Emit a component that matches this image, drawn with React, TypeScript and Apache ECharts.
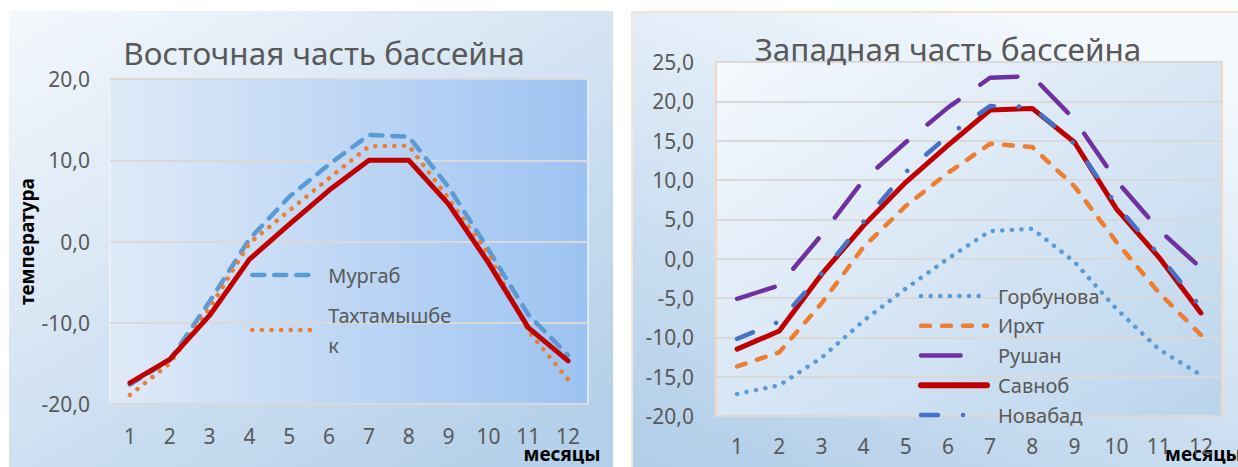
import { useEffect, useRef } from "react";
import * as echarts from "echarts";

// Months on the category axis
const months = ["1", "2", "3", "4", "5", "6", "7", "8", "9", "10", "11", "12"];

// Eastern part of the basin, mean monthly temperature, °C
const murgab = [-17.6, -14.6, -7.4, 0.3, 5.5, 9.5, 13.1, 12.9, 6.7, -1.0, -9.0, -14.0];
const takhtamyshbek = [-18.9, -15.0, -8.2, -0.2, 3.8, 7.8, 11.7, 11.8, 5.3, -1.6, -11.0, -17.0];
const eastMean = [-17.4, -14.5, -9.1, -2.2, 2.1, 6.3, 10.0, 10.0, 4.6, -2.6, -10.6, -14.7];

// Western part of the basin, mean monthly temperature, °C
const gorbunova = [-17.2, -16.1, -12.6, -7.9, -3.8, 0.0, 3.5, 3.8, -0.4, -6.4, -11.5, -14.8];
const irkht = [-13.7, -11.9, -5.7, 1.5, 6.7, 10.9, 14.6, 14.2, 9.2, 2.1, -4.3, -9.7];
const rushan = [-5.1, -3.4, 3.0, 10.0, 14.8, 19.2, 23.0, 23.2, 17.7, 9.9, 3.7, -1.2];
const savnob = [-11.5, -9.2, -2.0, 4.2, 9.7, 14.4, 18.9, 19.1, 14.8, 6.3, 0.2, -6.9];
const novabad = [-10.2, -8.0, -1.9, 4.7, 11.0, 15.6, 19.4, 19.3, 14.6, 6.8, 0.5, -6.2];

const FONT = "Noto Sans";
const GREY = "#595959";

const fmt = (v: number) => v.toFixed(1).replace(".", ",");

function lineSeries(name: string, data: number[], axis: number, color: string, width: number, type: any, z: number) {
  return {
    name,
    type: "line",
    data,
    xAxisIndex: axis,
    yAxisIndex: axis,
    symbol: "none",
    showSymbol: false,
    z,
    lineStyle: { color, width, type, cap: "round", join: "round" },
    itemStyle: { color },
  };
}

export default function App() {
  const ref = useRef<HTMLDivElement>(null);

  useEffect(() => {
    if (!ref.current) return;
    const chart = echarts.init(ref.current, undefined, { renderer: "svg" });
    const LG = echarts.graphic.LinearGradient;

    const axisLabel = { color: GREY, fontSize: 21, fontFamily: FONT };
    const splitLine = { show: true, lineStyle: { color: "#d9d9d9", width: 2 } };
    // legend shows only the line pattern, no marker
    const legendItemStyle = { opacity: 0 };
    const legendLine = { width: 4.5, cap: "round" };

    const option: any = {
      animation: false,
      textStyle: { fontFamily: FONT },
      graphic: [
        {
          type: "rect",
          z: -100,
          shape: { x: 9, y: 11, width: 604, height: 456 },
          style: {
            fill: new LG(0, 0, 0.8, 1, [
              { offset: 0, color: "#f4f8fc" },
              { offset: 1, color: "#b5d0ea" },
            ]),
          },
        },
        {
          type: "rect",
          z: -100,
          shape: { x: 632, y: 12, width: 610, height: 460 },
          style: {
            fill: new LG(0.6, 0, 0.1, 1, [
              { offset: 0, color: "#f3f8fd" },
              { offset: 1, color: "#b2cee9" },
            ]),
            stroke: "#fbe3d4",
            lineWidth: 2,
          },
        },
        {
          type: "text",
          x: 562,
          y: 454,
          style: {
            text: "месяцы",
            font: `bold 19px "${FONT}"`,
            fill: "#000",
            align: "center",
            verticalAlign: "middle",
          },
        },
        {
          type: "text",
          x: 1165,
          y: 454,
          style: {
            text: "месяцы",
            font: `bold 19px "${FONT}"`,
            fill: "#000",
            align: "left",
            verticalAlign: "middle",
          },
        },
      ],
      title: [
        {
          text: "Восточная часть бассейна",
          left: 324,
          top: 33,
          padding: 0,
          textAlign: "center",
          textStyle: { fontSize: 31.5, lineHeight: 38, fontWeight: "normal", color: GREY, fontFamily: FONT },
        },
        {
          text: "Западная часть бассейна",
          left: 948,
          top: 29,
          padding: 0,
          textAlign: "center",
          textStyle: { fontSize: 31.5, lineHeight: 38, fontWeight: "normal", color: GREY, fontFamily: FONT },
        },
      ],
      legend: [
        {
          data: ["Мургаб"],
          orient: "vertical",
          left: 250,
          top: 260,
          padding: 0,
          itemWidth: 65,
          itemHeight: 14,
          itemStyle: legendItemStyle,
          lineStyle: legendLine,
          textStyle: { color: GREY, fontSize: 20, lineHeight: 30, padding: [0, 0, 0, 6] },
        },
        {
          data: [
            {
              name: "Тахтамышбек",
              textStyle: { color: GREY, fontSize: 20, lineHeight: 30, padding: [30, 0, 0, 6] },
            },
          ],
          formatter: (n: string) => (n === "Тахтамышбек" ? "Тахтамышбе\nк" : n),
          orient: "vertical",
          left: 250,
          top: 285,
          padding: 0,
          itemWidth: 65,
          itemHeight: 14,
          itemStyle: legendItemStyle,
          lineStyle: legendLine,
          textStyle: { color: GREY, fontSize: 20, lineHeight: 30, padding: [30, 0, 0, 6] },
        },
        {
          data: [
            "Горбунова",
            "Ирхт",
            "Рушан",
            { name: "Савноб", lineStyle: { width: 6, cap: "round" } },
            "Новабад",
          ],
          orient: "vertical",
          left: 918,
          top: 283,
          padding: 0,
          itemGap: 3.75,
          itemWidth: 66,
          itemHeight: 14,
          itemStyle: legendItemStyle,
          lineStyle: legendLine,
          textStyle: { color: GREY, fontSize: 20, lineHeight: 26, padding: [0, 0, 0, 6] },
        },
      ],
      grid: [
        {
          left: 110,
          top: 79,
          width: 478,
          height: 325,
          show: true,
          backgroundColor: new LG(0, 0, 1, 0, [
            { offset: 0, color: "#dfeaf8" },
            { offset: 1, color: "#9dc3f2" },
          ]),
          borderColor: "#edf2f8",
          borderWidth: 1.5,
        },
        {
          left: 716,
          top: 62,
          width: 506,
          height: 354,
          show: true,
          backgroundColor: new LG(0, 0, 1, 1, [
            { offset: 0, color: "#f6f9fd" },
            { offset: 1, color: "#bad4ed" },
          ]),
          borderColor: "#f8d7c2",
          borderWidth: 2,
        },
      ],
      xAxis: [0, 1].map((i) => ({
        type: "category",
        gridIndex: i,
        data: months,
        boundaryGap: true,
        axisLine: { show: false },
        axisTick: { show: false },
        axisLabel: { ...axisLabel, margin: i === 0 ? 21 : 19 },
        splitLine: { show: false },
      })),
      yAxis: [
        {
          type: "value",
          gridIndex: 0,
          min: -20,
          max: 20,
          interval: 10,
          axisLine: { show: false },
          axisTick: { show: false },
          axisLabel: { ...axisLabel, margin: 20, formatter: fmt },
          splitLine,
          name: "температура",
          nameLocation: "middle",
          nameRotate: 90,
          nameGap: 74,
          nameTextStyle: { color: "#000", fontSize: 19, fontWeight: "bold", fontFamily: FONT },
        },
        {
          type: "value",
          gridIndex: 1,
          min: -20,
          max: 25,
          interval: 5,
          axisLine: { show: false },
          axisTick: { show: false },
          axisLabel: { ...axisLabel, margin: 22, formatter: fmt },
          splitLine,
        },
      ],
      series: [
        lineSeries("Мургаб", murgab, 0, "#5b9bd5", 4.5, [12, 10], 3),
        lineSeries("Тахтамышбек", takhtamyshbek, 0, "#ed7d31", 4.5, [0.1, 9.5], 4),
        lineSeries("Среднее", eastMean, 0, "#c00000", 5, "solid", 5),
        lineSeries("Горбунова", gorbunova, 1, "#5b9bd5", 4.5, [0.1, 9.5], 3),
        lineSeries("Ирхт", irkht, 1, "#ed7d31", 4.5, [9, 12], 4),
        lineSeries("Рушан", rushan, 1, "#7030a0", 4.5, [39.5, 26.5], 5),
        lineSeries("Савноб", savnob, 1, "#c00000", 5, "solid", 6),
        lineSeries("Новабад", novabad, 1, "#4472c4", 4.5, [17, 25, 0.1, 25], 7),
      ],
    };

    chart.setOption(option);
    return () => chart.dispose();
  }, []);

  return (
    <div
      ref={ref}
      style={{ position: "fixed", left: 0, top: 0, width: 1238, height: 467, background: "#ffffff" }}
    />
  );
}
